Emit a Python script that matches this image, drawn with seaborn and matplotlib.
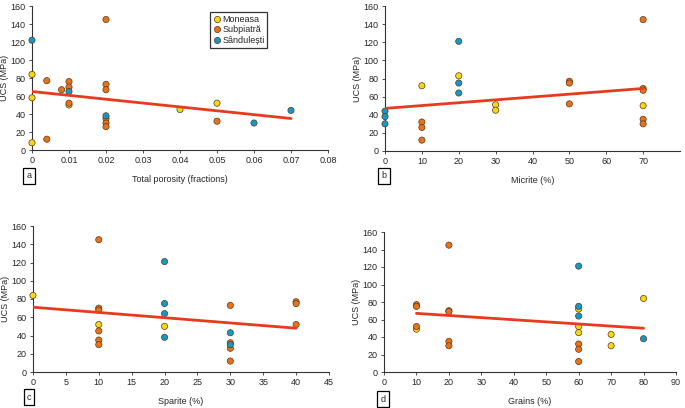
import matplotlib
matplotlib.use("Agg")
import matplotlib.pyplot as plt
import seaborn as sns
import pandas as pd

sites = ["Moneasa", "Subpiatră", "Sândulești"]
site_colors = ["#f7d613", "#e8711b", "#1598c8"]

# panel a: total porosity
por_x = [0, 0, 0, 0.01, 0.04, 0.05,
         0.004, 0.004, 0.008, 0.01, 0.01, 0.01, 0.02, 0.02, 0.02, 0.02, 0.02, 0.02, 0.05,
         0, 0.01, 0.02, 0.06, 0.07]
por_ucs = [84, 58, 8, 50, 45, 52,
           77, 12, 67, 76, 70, 52, 145, 73, 67, 35, 30, 26, 32,
           122, 65, 38, 30, 44]
por_site = ["Moneasa"] * 6 + ["Subpiatră"] * 13 + ["Sândulești"] * 5
por_fit_x = [0, 0.07]
por_fit_y = [65, 35]

# panel b: micrite
mic_x = [10, 20, 30, 30, 70,
         10, 10, 10, 50, 50, 50, 70, 70, 70, 70, 70,
         0, 0, 0, 20, 20, 20]
mic_ucs = [72, 83, 51, 45, 50,
           32, 26, 12, 77, 75, 52, 145, 69, 67, 35, 30,
           44, 38, 30, 121, 75, 64]
mic_site = ["Moneasa"] * 5 + ["Subpiatră"] * 11 + ["Sândulești"] * 6
mic_fit_x = [0, 70]
mic_fit_y = [47, 69]

# panel c: sparite
spa_x = [0, 10, 20,
         10, 10, 10, 10, 10, 10, 30, 30, 30, 30, 40, 40, 40,
         20, 20, 20, 20, 30, 30]
spa_ucs = [84, 52, 50,
           145, 70, 68, 45, 35, 30, 73, 32, 26, 12, 77, 75, 52,
           121, 75, 64, 38, 43, 30]
spa_site = ["Moneasa"] * 3 + ["Subpiatră"] * 13 + ["Sândulești"] * 6
spa_fit_x = [0, 40]
spa_fit_y = [71, 48]

# panel d: grains
gra_x = [10, 60, 60, 60, 70, 70, 80,
         10, 10, 10, 20, 20, 20, 20, 20, 60, 60, 60,
         60, 60, 60, 80]
gra_ucs = [49, 72, 52, 45, 43, 30, 84,
           77, 75, 52, 145, 70, 69, 35, 30, 32, 26, 12,
           121, 75, 64, 38]
gra_site = ["Moneasa"] * 7 + ["Subpiatră"] * 11 + ["Sândulești"] * 4
gra_fit_x = [10, 80]
gra_fit_y = [67, 50]

sns.set_theme(style="ticks")
plt.rcParams["font.family"] = ["Liberation Sans", "DejaVu Sans"]
plt.rcParams["font.size"] = 6.5

fig = plt.figure(figsize=(6.85, 4.08), dpi=100)
W, H = 685, 408


def px_axes(left, top, right, bottom):
    return fig.add_axes([left / W, 1 - bottom / H, (right - left) / W, (bottom - top) / H])


panels = [
    (px_axes(32, 6, 328, 150), por_x, por_ucs, por_site, por_fit_x, por_fit_y,
     "Total porosity (fractions)", (0, 0.08), [0, 0.01, 0.02, 0.03, 0.04, 0.05, 0.06, 0.07, 0.08],
     ["0", "0.01", "0.02", "0.03", "0.04", "0.05", "0.06", "0.07", "0.08"], "a", (29, 176)),
    (px_axes(385, 6, 680, 151), mic_x, mic_ucs, mic_site, mic_fit_x, mic_fit_y,
     "Micrite (%)", (0, 80), [0, 10, 20, 30, 40, 50, 60, 70],
     ["0", "10", "20", "30", "40", "50", "60", "70"], "b", (384, 176)),
    (px_axes(33, 226, 329, 372), spa_x, spa_ucs, spa_site, spa_fit_x, spa_fit_y,
     "Sparite (%)", (0, 45), [0, 5, 10, 15, 20, 25, 30, 35, 40, 45],
     ["0", "5", "10", "15", "20", "25", "30", "35", "40", "45"], "c", (29, 397)),
    (px_axes(384, 232, 676, 372), gra_x, gra_ucs, gra_site, gra_fit_x, gra_fit_y,
     "Grains (%)", (0, 90), [0, 10, 20, 30, 40, 50, 60, 70, 80, 90],
     ["0", "10", "20", "30", "40", "50", "60", "70", "80", "90"], "d", (383, 399)),
]

for i, (ax, x, y, site, fx, fy, xlabel, xlim, xticks, xticklabels, tag, tagpos) in enumerate(panels):
    df = pd.DataFrame({"x": x, "UCS": y, "site": site})
    sns.scatterplot(data=df, x="x", y="UCS", hue="site", hue_order=sites,
                    palette=site_colors, s=20, edgecolor="#5a3a1a", linewidth=0.5,
                    ax=ax, legend=(i == 0), zorder=3, clip_on=False)
    sns.lineplot(x=fx, y=fy, color="#e63b1c", linewidth=2.0, ax=ax, zorder=4)
    ax.set_xlim(*xlim)
    ax.set_ylim(0, 160)
    ax.set_xticks(xticks)
    ax.set_xticklabels(xticklabels)
    ax.set_yticks(range(0, 161, 20))
    ax.set_xlabel(xlabel, fontsize=6.5, labelpad=7)
    ax.set_ylabel("UCS (MPa)", fontsize=6.5, labelpad=1)
    for s in ["top", "right"]:
        ax.spines[s].set_visible(False)
    for s in ["left", "bottom"]:
        ax.spines[s].set_color("#333333")
        ax.spines[s].set_linewidth(0.8)
    ax.tick_params(axis="both", labelsize=6.5, length=2.5, width=0.6, color="#333333", pad=2)
    fig.text(tagpos[0] / W, 1 - tagpos[1] / H, tag, fontsize=6.5, ha="center", va="center",
             bbox=dict(boxstyle="square,pad=0.35", fc="white", ec="black", lw=0.9))
    if i == 0:
        leg = ax.legend(loc="upper right", bbox_to_anchor=(0.81, 0.99), fontsize=6.5,
                        frameon=True, fancybox=False, edgecolor="black",
                        handletextpad=0.1, borderpad=0.3, labelspacing=0.2,
                        handlelength=1.0, markerscale=1.0)
        leg.get_frame().set_linewidth(0.9)

fig.savefig("out.png", dpi=100)
